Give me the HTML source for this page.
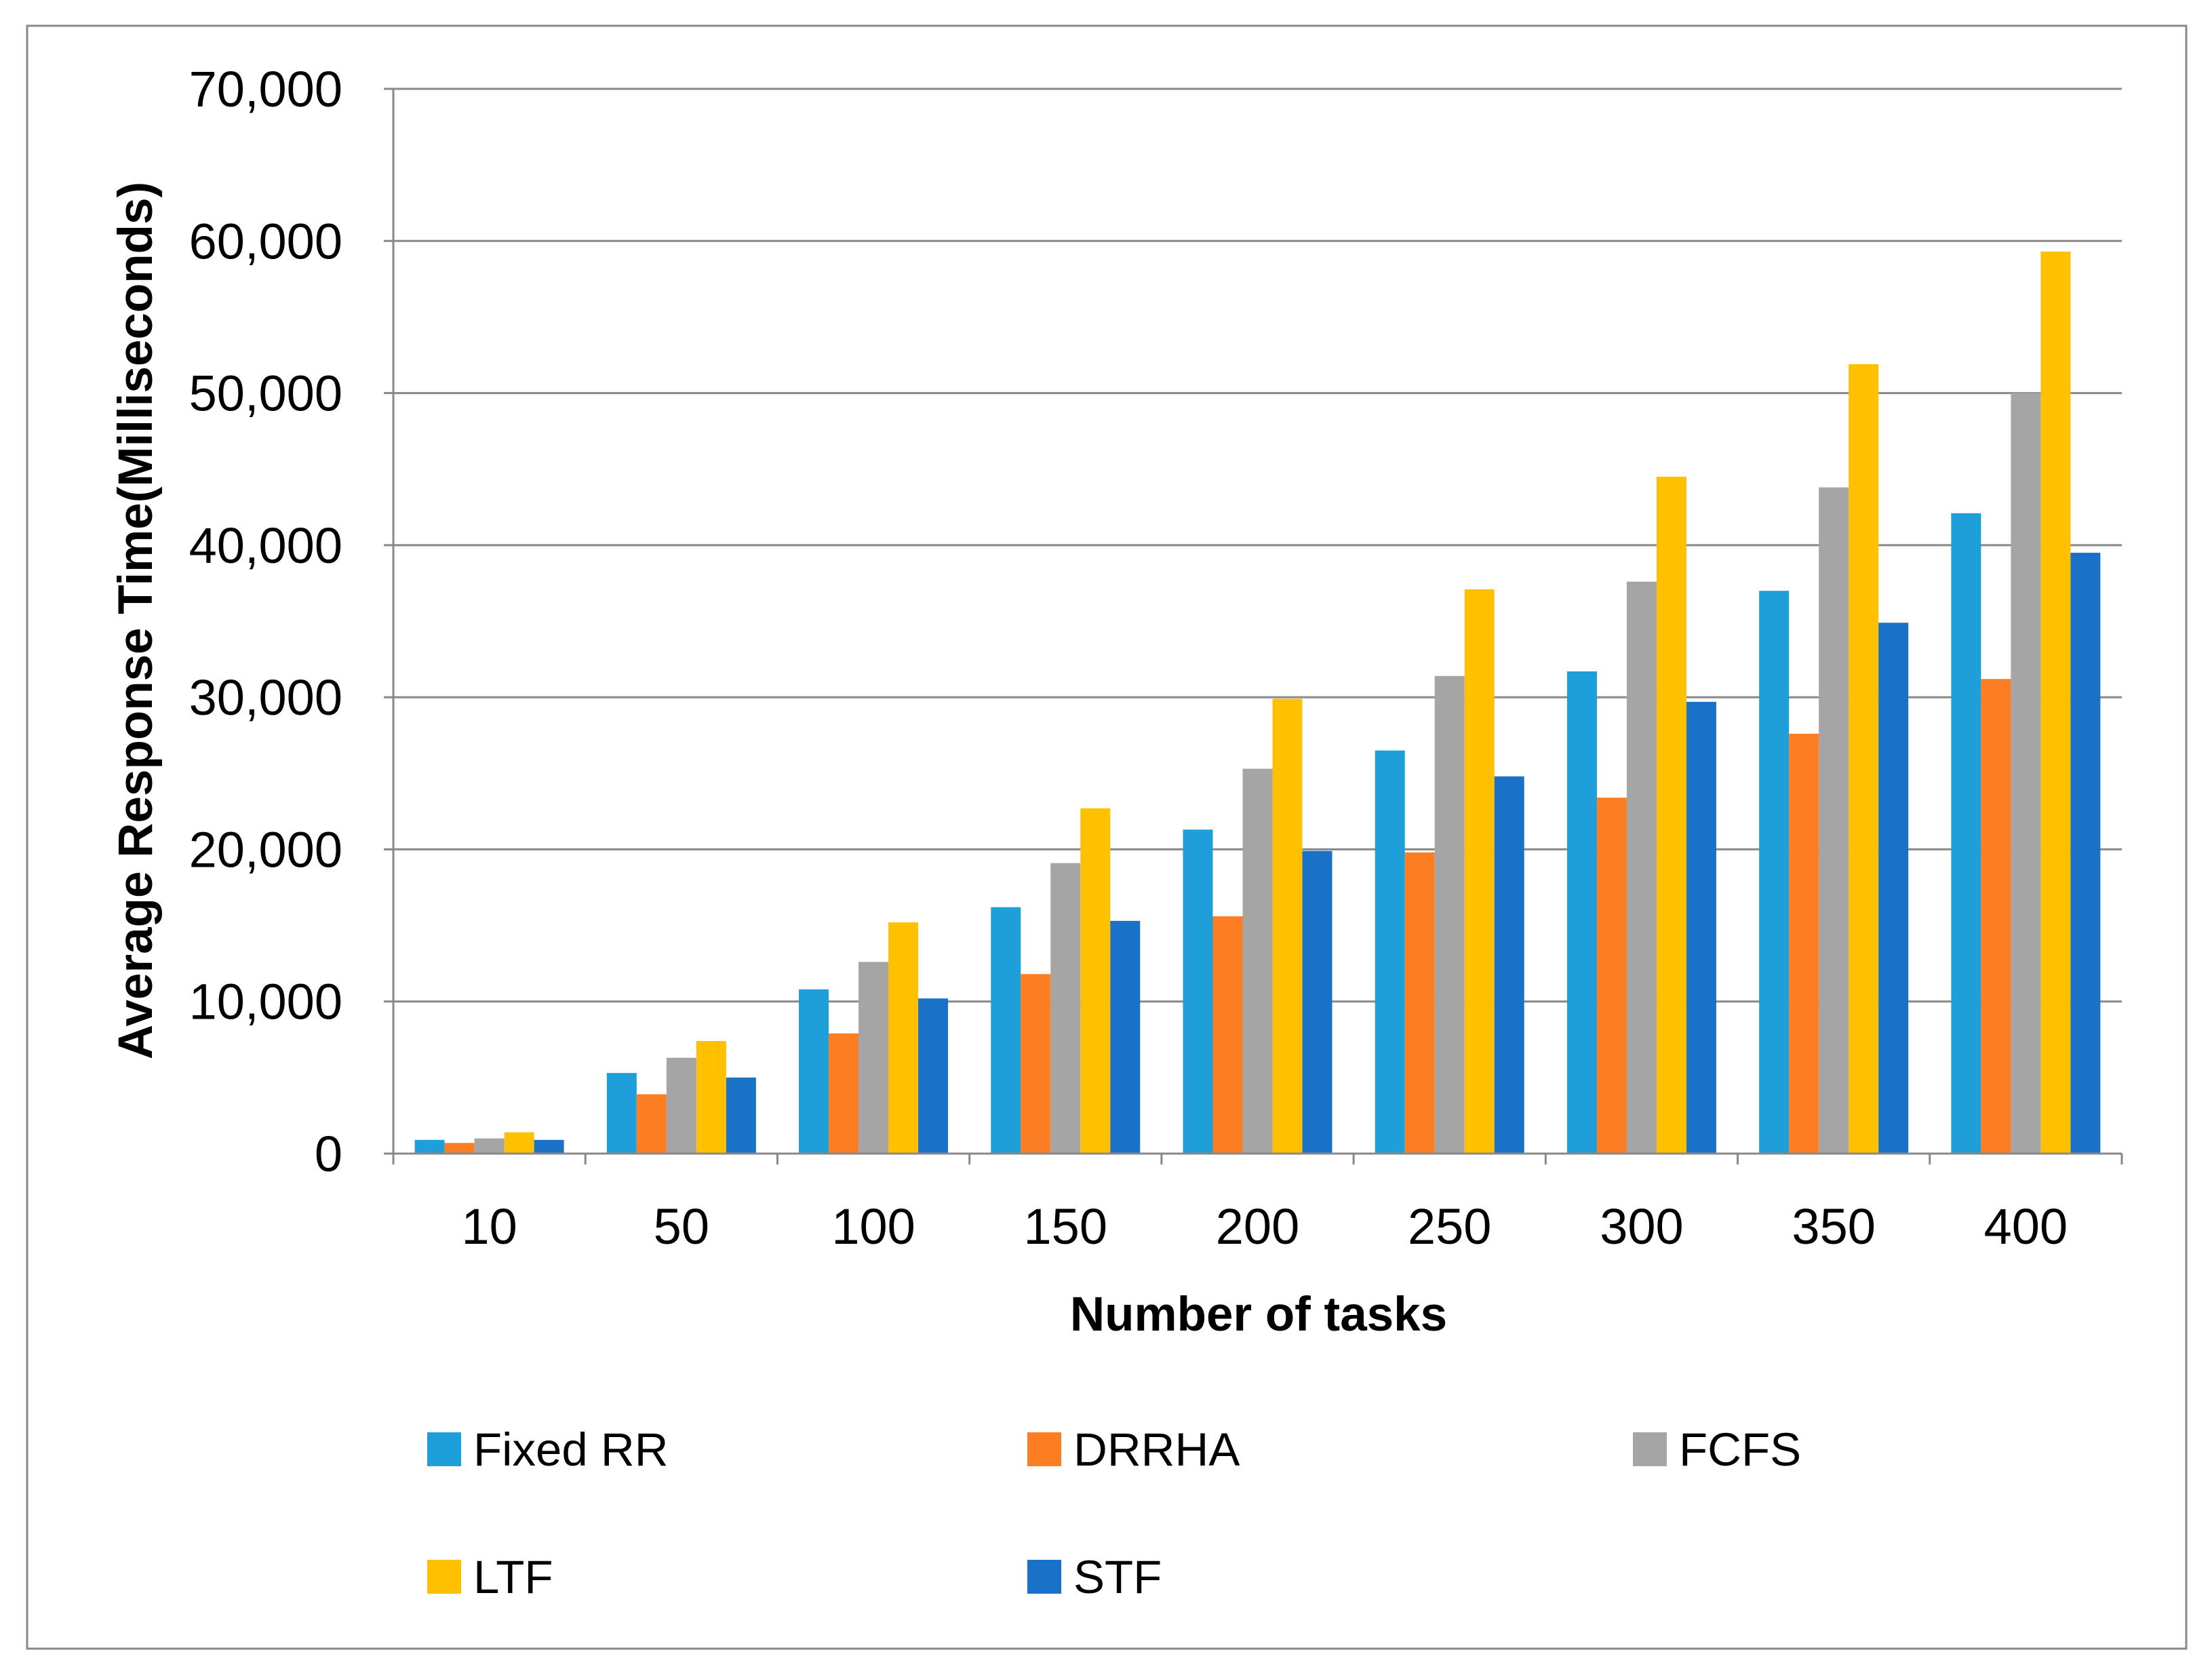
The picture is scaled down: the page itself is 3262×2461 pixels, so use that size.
<!DOCTYPE html>
<html><head><meta charset="utf-8"><style>
html,body{margin:0;padding:0;background:#fff;}
svg{display:block;font-family:"Liberation Sans",sans-serif;}
</style></head><body>
<svg id="chart" width="3262" height="2461" viewBox="0 0 3262 2461">
<rect x="40" y="38" width="3184" height="2393" fill="#fff" stroke="#888" stroke-width="3"/>
<g id="grid"></g><g id="bars"></g><g id="axes"></g>
<text x="1856" y="1962" text-anchor="middle" font-size="71" font-weight="bold" fill="#000">Number of tasks</text>
<text transform="translate(224,915) rotate(-90)" text-anchor="middle" font-size="71" font-weight="bold" fill="#000">Average Response Time(Milliseconds)</text>
<g id="legend"></g>
</svg>
<script>
const categories=["10","50","100","150","200","250","300","350","400"];
const seriesNames=["Fixed RR","DRRHA","FCFS","LTF","STF"];
const fixedRR=[900,5300,10800,16200,21300,26500,31700,37000,42100];
const drrha=[700,3900,7900,11800,15600,19800,23400,27600,31200];
const fcfs=[1000,6300,12600,19100,25300,31400,37600,43800,50000];
const ltf=[1400,7400,15200,22700,29900,37100,44500,51900,59300];
const stf=[900,5000,10200,15300,19900,24800,29700,34900,39500];
const yTicks=[0,10000,20000,30000,40000,50000,60000,70000];
const colors=["#1f9fd9","#fd7d23","#a5a5a5","#ffc000","#1a72c8"];
const series=[fixedRR,drrha,fcfs,ltf,stf];
const NS="http://www.w3.org/2000/svg";
const L=580,R=3129,B=1701,T=131,yMax=70000;
const y=v=>B-(v/yMax)*(B-T);
const gw=(R-L)/categories.length, bw=44;
const x=(i,s)=>L+i*gw+(gw-bw*5)/2+s*bw;
function mk(t,a,p){const e=document.createElementNS(NS,t);for(const k in a)e.setAttribute(k,a[k]);p.appendChild(e);return e;}
const grid=document.getElementById('grid'),bars=document.getElementById('bars'),axes=document.getElementById('axes'),leg=document.getElementById('legend');
yTicks.forEach(v=>{
 if(v>0){const g=mk('line',{x1:L,x2:R,y1:y(v),y2:y(v),stroke:'#888','stroke-width':3},grid);
 
 }
 const tk=mk('line',{x1:L-14,x2:L,y1:y(v),y2:y(v),stroke:'#888','stroke-width':3},axes);
 
 
 const t=mk('text',{x:505,y:y(v)+26,'text-anchor':'end','font-size':74,fill:'#000'},axes);
 t.textContent=v.toLocaleString('en-US');
 
 
});
series.forEach((arr,s)=>arr.forEach((v,i)=>{
 const r=mk('rect',{x:x(i,s),y:y(v),width:bw,height:B-y(v),fill:colors[s]},bars);
 
 
}));
const ya=mk('line',{x1:L,x2:L,y1:T,y2:B,stroke:'#888','stroke-width':3},axes);


const xa=mk('line',{x1:L,x2:R,y1:B,y2:B,stroke:'#888','stroke-width':3},axes);


for(let i=0;i<=categories.length;i++){
 const tk=mk('line',{x1:L+i*gw,x2:L+i*gw,y1:B,y2:B+16,stroke:'#888','stroke-width':3},axes);
 
 
}
categories.forEach((c,i)=>{
 const t=mk('text',{x:L+i*gw+gw/2,y:1834,'text-anchor':'middle','font-size':74,fill:'#000'},axes);
 t.textContent=c;
 
 
});
const lx=[630,1515,2408,630,1515], ly=[2112,2112,2112,2300,2300];
seriesNames.forEach((n,s)=>{
 const g=mk('g',{},leg);
 
 
 mk('rect',{x:lx[s],y:ly[s],width:50,height:50,fill:colors[s]},g);
 const t=mk('text',{x:lx[s]+68,y:ly[s]+49,'font-size':69,fill:'#000'},g);
 t.textContent=n;
});
</script>
</body></html>
